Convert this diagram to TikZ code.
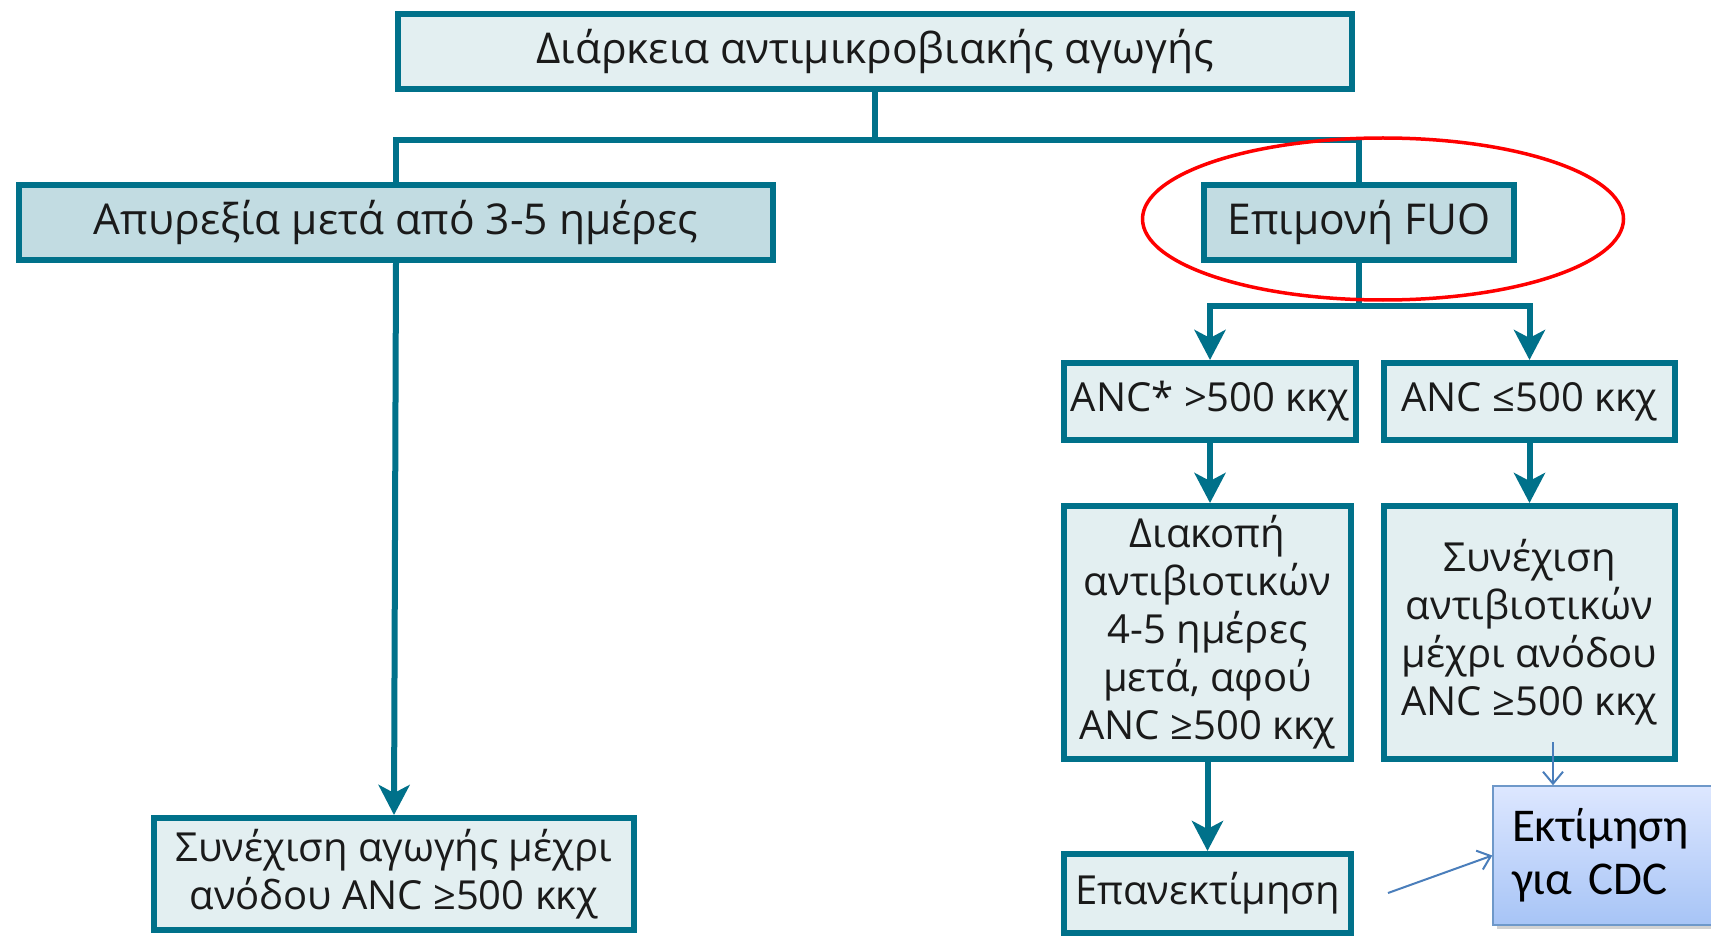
\documentclass[tikz,border=0pt]{standalone}
\usepackage{fontspec}
\setmainfont{Open Sans}
\newfontfamily\calibfont{Carlito}
\usetikzlibrary{arrows.meta,shadows,shapes.geometric}

\definecolor{flowteal}{HTML}{00718A}
\definecolor{boxlight}{HTML}{E3EFF1}
\definecolor{boxshade}{HTML}{C2DCE2}
\definecolor{textdark}{HTML}{1A1A1A}
\definecolor{noteblue}{HTML}{4A7EBB}
\definecolor{notetop}{HTML}{DDE7FF}
\definecolor{notebottom}{HTML}{A7C4F6}

\tikzset{
  flowbox/.style={draw=flowteal, line width=6pt, fill=boxlight, inner sep=0pt,
    align=center, text=textdark, font=\fontsize{40}{48}\selectfont},
  headbox/.style={flowbox, font=\fontsize{42.5}{48}\selectfont},
  headboxdark/.style={headbox, fill=boxshade},
  flowlink/.style={draw=flowteal, line width=6pt},
  flowarrow/.style={flowlink, -{Stealth[length=30pt,width=31pt,inset=8pt]}},
  notebox/.style={draw=noteblue!80, line width=1.5pt, top color=notetop,
    bottom color=notebottom, inner xsep=19pt, inner ysep=0pt, align=left,
    text width=199pt, font=\calibfont\fontsize{47}{53}\selectfont,
    drop shadow={shadow xshift=4pt, shadow yshift=-4pt, opacity=0.35}},
  notearrow/.style={draw=noteblue, line width=2pt,
    -{Straight Barb[length=12pt,width=20pt,line width=2pt]}},
  focusring/.style={draw=red, line width=3.5pt, ellipse, inner sep=0pt}
}

\begin{document}
\begin{tikzpicture}[x=1pt,y=-1pt]
  \useasboundingbox[fill=white] (0,0) rectangle (1711,936);

  % boxes
  \node[headbox, minimum width=954pt, minimum height=75pt] (top) at (875,51.5)
    {Διάρκεια αντιμικροβιακής αγωγής};
  \node[headboxdark, minimum width=754pt, minimum height=75pt] (afeb) at (396,222.5)
    {Απυρεξία μετά από 3-5 ημέρες};
  \node[headboxdark, minimum width=310pt, minimum height=75pt] (fuo) at (1359,222.5)
    {Επιμονή FUO};
  \node[flowbox, minimum width=292pt, minimum height=77pt] (hi) at (1210,401.5)
    {ANC* >500 κκχ};
  \node[flowbox, minimum width=291pt, minimum height=77pt] (lo) at (1529.5,401.5)
    {ANC ≤500 κκχ};
  \node[flowbox, minimum width=287pt, minimum height=253pt] (stop) at (1207.5,632.5)
    {Διακοπή\\αντιβιοτικών\\4-5 ημέρες\\μετά, αφού\\ANC ≥500 κκχ};
  \node[flowbox, minimum width=291pt, minimum height=253pt] (cont) at (1529.5,632.5)
    {Συνέχιση\\αντιβιοτικών\\μέχρι ανόδου\\ANC ≥500 κκχ};
  \node[flowbox, minimum width=287pt, minimum height=79pt] (reeval) at (1207.5,893.5)
    {Επανεκτίμηση};
  \node[flowbox, minimum width=480pt, minimum height=112pt] (contall) at (394,874)
    {Συνέχιση αγωγής μέχρι\\ανόδου ANC ≥500 κκχ};
  \node[notebox, minimum width=237pt, minimum height=139pt] (cdc) at (1611.5,855.5)
    {Εκτίμηση\\για CDC};

  % tree connectors
  \coordinate (split) at (875,140);
  \draw[flowlink] (top.south) -- (split);
  \draw[flowlink] (afeb.north) -- (afeb.north |- split) -- (fuo.north |- split) -- (fuo.north);
  \draw[flowarrow] (afeb.south) -- (contall.north);

  \coordinate (fork) at (1359,306);
  \draw[flowlink] (fuo.south) -- (fork);
  \draw[flowarrow] (fork) -| (hi.north);
  \draw[flowarrow] (fork) -| (lo.north);
  \draw[flowarrow] (hi.south) -- (hi.south |- stop.north);
  \draw[flowarrow] (lo.south) -- (lo.south |- cont.north);
  \draw[flowarrow] (stop.south) -- (stop.south |- reeval.north);

  % note arrows
  \coordinate (fromcont) at (1553,742);
  \coordinate (fromreeval) at (1388,893);
  \draw[notearrow] (fromcont) -- (fromcont |- cdc.north);
  \draw[notearrow] (fromreeval) -- (cdc.west);

  % highlight ring
  \node[focusring, minimum width=481pt, minimum height=162pt] (ring) at (1383,219) {};
\end{tikzpicture}
\end{document}
